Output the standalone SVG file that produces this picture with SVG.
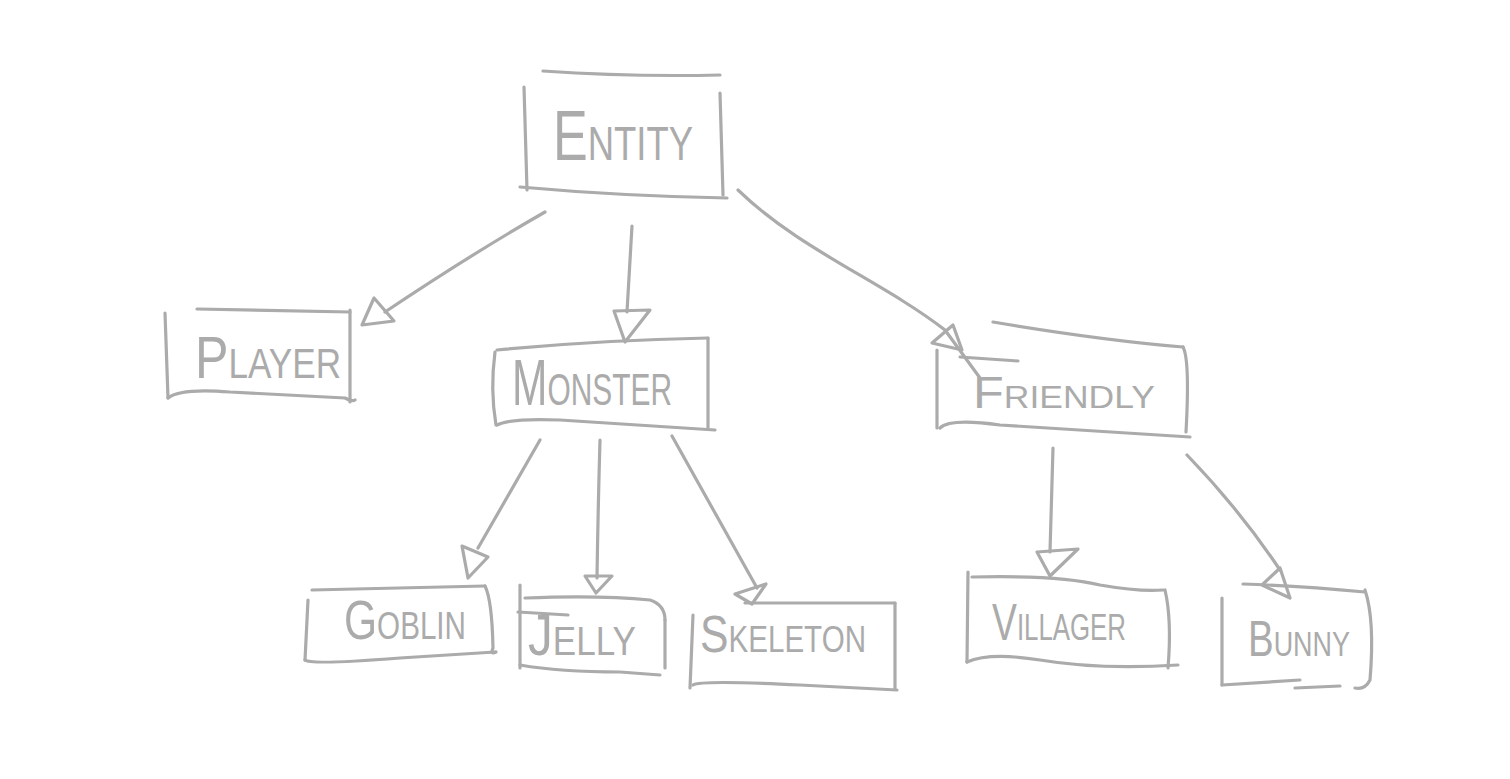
<svg xmlns="http://www.w3.org/2000/svg" width="1510" height="779" viewBox="0 0 1510 779">
<style>
.s{fill:none;stroke:#ababab;stroke-width:3.2;stroke-linecap:round;stroke-linejoin:round}
.t{font-family:"Liberation Sans","DejaVu Sans",sans-serif;font-variant:small-caps;fill:#ababab;stroke:none}
</style>
<rect width="1510" height="779" fill="#ffffff"/>
<g id="connectors" class="s">
<path d="M545,212 Q470,255 385,312"/><path d="M374,298 L362,325 L394,321 Z"/>
<path d="M632,226 L627,312"/><path d="M614,311 L650,310 L625,342 Z"/>
<path d="M738,190 C800,250 880,280 945,330 L980,378"/><path d="M932,343 L953,325 L962,350 Z"/>
<path d="M540,440 L478,548"/><path d="M462,546 L488,557 L468,578 Z"/>
<path d="M600,440 Q598,510 597,578"/><path d="M585,576 L612,576 L596,593 Z"/>
<path d="M672,436 L757,588"/><path d="M735,594 L766,584 L752,604 Z"/>
<path d="M1053,448 L1050,552"/><path d="M1037,552 L1078,549 L1050,576 Z"/>
<path d="M1187,455 Q1240,510 1280,570"/><path d="M1280,568 L1262,585 L1290,598 Z"/>
</g>
<g id="entity" class="s">
<path d="M543,71 Q630,77 720,75"/><path d="M524,87 L527,190"/><path d="M720,93 L723,195"/><path d="M520,187 Q620,196 727,198"/>
<text class="t" x="553" y="160" font-size="70" textLength="140" lengthAdjust="spacingAndGlyphs">Entity</text>
</g>
<g id="player" class="s">
<path d="M197,309 L350,312"/><path d="M165,313 L168,398"/><path d="M350,310 L350,402"/><path d="M168,398 Q180,388 230,392 L345,398 Q352,402 355,400"/>
<text class="t" x="195" y="378" font-size="60" textLength="146" lengthAdjust="spacingAndGlyphs">Player</text>
</g>
<g id="monster" class="s">
<path d="M497,350 Q600,340 708,338"/><path d="M495,352 Q490,390 496,425"/><path d="M708,338 L708,428"/><path d="M497,425 Q510,418 560,420 L715,430"/>
<text class="t" x="512" y="405" font-size="64" textLength="160" lengthAdjust="spacingAndGlyphs">Monster</text>
</g>
<g id="friendly" class="s">
<path d="M993,322 Q1100,340 1183,347"/><path d="M960,357 L1018,361"/><path d="M937,350 L937,428"/><path d="M1183,347 Q1190,360 1186,432"/><path d="M940,428 Q950,418 1000,425 L1190,437"/>
<text class="t" x="973" y="408" font-size="44" textLength="182" lengthAdjust="spacingAndGlyphs">Friendly</text>
</g>
<g id="goblin" class="s">
<path d="M312,590 L485,586"/><path d="M308,600 L305,660"/><path d="M485,586 Q492,600 493,648 Q490,655 496,652"/><path d="M305,660 Q310,665 400,658 L495,652"/>
<text class="t" x="344" y="639" font-size="56" textLength="122" lengthAdjust="spacingAndGlyphs">Goblin</text>
</g>
<g id="jelly" class="s">
<path d="M525,598 Q600,595 650,600 Q665,605 665,620"/><path d="M518,612 L568,615"/><path d="M520,585 L520,668"/><path d="M665,620 L665,668"/><path d="M520,665 Q560,672 620,672 L660,675"/>
<text class="t" x="528" y="655" font-size="58" textLength="108" lengthAdjust="spacingAndGlyphs">Jelly</text>
</g>
<g id="skeleton" class="s">
<path d="M745,603 L895,603"/><path d="M693,615 L690,688"/><path d="M895,603 L895,688"/><path d="M693,685 Q700,680 800,685 L897,690"/>
<text class="t" x="700" y="652" font-size="52" textLength="166" lengthAdjust="spacingAndGlyphs">Skeleton</text>
</g>
<g id="villager" class="s">
<path d="M972,577 Q1060,575 1100,585 Q1140,592 1163,590"/><path d="M968,572 L967,662"/><path d="M1165,590 Q1172,620 1168,668"/><path d="M967,662 Q990,652 1040,660 Q1100,670 1178,665"/>
<text class="t" x="992" y="640" font-size="52" textLength="134" lengthAdjust="spacingAndGlyphs">Villager</text>
</g>
<g id="bunny" class="s">
<path d="M1243,584 Q1300,586 1365,592"/><path d="M1222,598 L1222,685"/><path d="M1365,590 Q1375,620 1370,680 Q1365,690 1355,688"/><path d="M1222,685 L1300,680"/><path d="M1295,688 L1340,686"/>
<text class="t" x="1248" y="656" font-size="50" textLength="102" lengthAdjust="spacingAndGlyphs">Bunny</text>
</g>
</svg>
